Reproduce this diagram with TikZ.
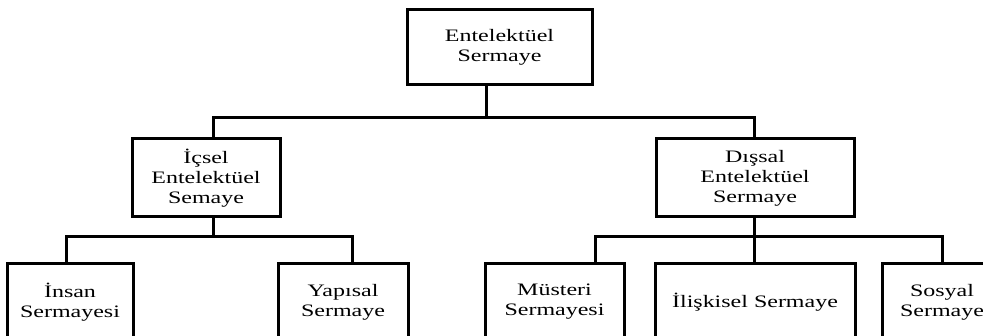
\documentclass[tikz,border=0pt]{standalone}
\usepackage{fontspec}
\setmainfont{Liberation Serif}[FakeStretch=1.37]
\begin{document}
\begin{tikzpicture}[x=1pt,y=-1pt,
  box/.style={draw=black, line width=3pt, rectangle, inner sep=0pt, align=center,
    font=\fontsize{17.5}{20}\selectfont},
  conn/.style={draw=black, line width=3pt}]
\useasboundingbox (0,0) rectangle (983,336);
\clip (0,0) rectangle (983,336);
% nodes
\node[box, minimum width=185pt, minimum height=75pt] (top) at (499.5,47.5) {Entelektüel\\Sermaye};
\node[box, minimum width=148pt, minimum height=78pt] (ic) at (206,178) {İçsel\\Entelektüel\\Semaye};
\node[box, minimum width=198pt, minimum height=78pt] (dis) at (755,178) {Dışsal\\Entelektüel\\Sermaye};
\node[box, minimum width=126pt, minimum height=76pt] (insan) at (70,302) {İnsan\\Sermayesi};
\node[box, minimum width=130pt, minimum height=76pt] (yap) at (343,302) {Yapısal\\Sermaye};
\node[box, minimum width=139pt, minimum height=76pt] (mus) at (554.5,302) {Müsteri\\Sermayesi};
\node[box, minimum width=200pt, minimum height=76pt] (ili) at (755,302) {İlişkisel Sermaye};
\node[box, minimum width=120pt, minimum height=76pt] (sos) at (942,302) {Sosyal\\Sermaye};
% junction coordinates
\coordinate (b1) at (486,118);
\coordinate (b2l) at (213,237);
\coordinate (b2r) at (754,237);
% connectors
\draw[conn] (top.south -| b1) -- (b1);
\draw[conn] (ic.north -| b2l) -- (b2l |- b1) -- (b1) -- (b2r |- b1) -- (dis.north -| b2r);
\draw[conn] (ic.south -| b2l) -- (b2l);
\draw[conn] (insan.north -| 66,0) -- (66,237) -- (b2l) -- (352,237) -- (yap.north -| 352,0);
\draw[conn] (dis.south -| b2r) -- (b2r);
\draw[conn] (mus.north -| 595,0) -- (595,237) -- (b2r) -- (942,237) -- (sos.north -| 942,0);
\draw[conn] (b2r) -- (ili.north -| b2r);
\end{tikzpicture}
\end{document}
